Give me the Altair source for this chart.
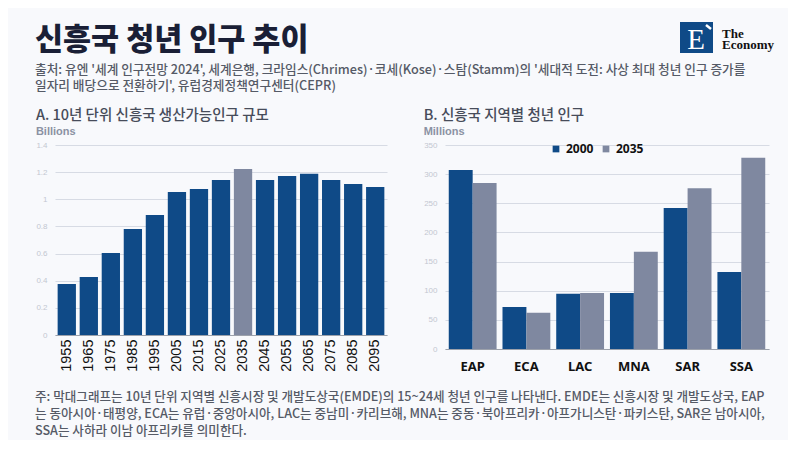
import altair as alt
import pandas as pd

# ---------------- data ----------------
years = [1955, 1965, 1975, 1985, 1995, 2005, 2015, 2025, 2035, 2045, 2055, 2065, 2075, 2085, 2095]
working_age_bn = [0.376, 0.427, 0.604, 0.781, 0.884, 1.054, 1.076, 1.142, 1.223, 1.142, 1.172, 1.189, 1.142, 1.113, 1.091]

regions = ["EAP", "ECA", "LAC", "MNA", "SAR", "SSA"]
youth_2000 = [307, 72, 95, 96, 242, 132]
youth_2035 = [285, 62, 96, 167, 276, 328]
series_years = ["2000", "2035"]

left_ticks = [0, 0.2, 0.4, 0.6, 0.8, 1, 1.2, 1.4]
right_ticks = [0, 50, 100, 150, 200, 250, 300, 350]

title_text = "신흥국 청년 인구 추이"
source_lines = [
    "출처: 유엔 '세계 인구전망 2024', 세계은행, 크라임스(Chrimes)·코세(Kose)·스탐(Stamm)의 '세대적 도전: 사상 최대 청년 인구 증가를",
    "일자리 배당으로 전환하기', 유럽경제정책연구센터(CEPR)",
]
panel_a_title = "A. 10년 단위 신흥국 생산가능인구 규모"
panel_a_unit = "Billions"
panel_b_title = "B. 신흥국 지역별 청년 인구"
panel_b_unit = "Millions"
note_lines = [
    "주: 막대그래프는 10년 단위 지역별 신흥시장 및 개발도상국(EMDE)의 15~24세 청년 인구를 나타낸다. EMDE는 신흥시장 및 개발도상국, EAP",
    "는 동아시아·태평양, ECA는 유럽·중앙아시아, LAC는 중남미·카리브해, MNA는 중동·북아프리카·아프가니스탄·파키스탄, SAR은 남아시아,",
    "SSA는 사하라 이남 아프리카를 의미한다.",
]

# ---------------- style ----------------
KR = "Noto Sans CJK KR"
BLUE = "#0f4a87"
GRAY = "#7f88a0"
BG = "#f8f9fc"
TXT = "#1a1f36"
SUB = "#555a66"
X0 = -20  # header / footer text start, relative to left plot origin

df_a = pd.DataFrame({"year": years, "value": working_age_bn})
rows = []
for r, a, b in zip(regions, youth_2000, youth_2035):
    rows.append({"region": r, "series": series_years[0], "value": a})
    rows.append({"region": r, "series": series_years[1], "value": b})
df_b = pd.DataFrame(rows)

# ---------------- header ----------------
hdr = pd.DataFrame({"t": [title_text]})
W_HDR = 680
H_HDR = 84

base_hdr = alt.Chart(hdr).properties(width=W_HDR, height=H_HDR)
h_title = base_hdr.mark_text(align="left", baseline="alphabetic", font=KR, fontSize=30.5,
                             fontWeight=900, color=TXT).encode(
    x=alt.value(X0), y=alt.value(35), text=alt.value(title_text))
h_src1 = base_hdr.mark_text(align="left", baseline="alphabetic", font=KR, fontSize=12.7,
                            fontWeight=500, color=SUB).encode(
    x=alt.value(X0), y=alt.value(58.5), text=alt.value(source_lines[0]))
h_src2 = base_hdr.mark_text(align="left", baseline="alphabetic", font=KR, fontSize=12.7,
                            fontWeight=500, color=SUB).encode(
    x=alt.value(X0), y=alt.value(75), text=alt.value(source_lines[1]))
LX = 625  # logo left, relative to left plot origin
logo_box = base_hdr.mark_rect(color=BLUE).encode(
    x=alt.value(LX), x2=alt.value(LX + 33), y=alt.value(7), y2=alt.value(38))
logo_e = base_hdr.mark_text(align="center", baseline="alphabetic", font="Liberation Serif",
                            fontSize=29, color="white").encode(
    x=alt.value(LX + 16), y=alt.value(34), text=alt.value("E"))
logo_tick = base_hdr.mark_rule(color="white", strokeWidth=2.5).encode(
    x=alt.value(LX + 26), x2=alt.value(LX + 31), y=alt.value(10), y2=alt.value(14))
logo_the = base_hdr.mark_text(align="left", baseline="alphabetic", font="Liberation Serif",
                              fontSize=13, fontWeight="bold", color="#111111").encode(
    x=alt.value(LX + 42), y=alt.value(23), text=alt.value("The"))
logo_eco = base_hdr.mark_text(align="left", baseline="alphabetic", font="Liberation Serif",
                              fontSize=13, fontWeight="bold", color="#111111").encode(
    x=alt.value(LX + 42), y=alt.value(34), text=alt.value("Economy"))
header = alt.layer(h_title, h_src1, h_src2, logo_box, logo_e, logo_tick, logo_the, logo_eco)

# ---------------- panel A ----------------
def panel_title(t, unit):
    return alt.TitleParams(
        text=t, subtitle=unit, anchor="start", frame="bounds",
        font=KR, fontSize=14.5, fontWeight=500, color="#474c5a",
        subtitleFont="Liberation Sans", subtitleFontSize=11, subtitleFontWeight="bold",
        subtitleColor="#8b92a3", subtitlePadding=3, offset=3)

y_axis_common = dict(grid=True, gridColor="#d7dbe4", gridWidth=1, domain=False, ticks=False,
                     labelColor="#c3c7d1", labelFontSize=8, labelFont="Liberation Sans",
                     labelPadding=8, title=None)

chart_a = alt.Chart(df_a).mark_bar().encode(
    x=alt.X("year:O", title=None,
            scale=alt.Scale(paddingInner=0.17, paddingOuter=0.12),
            axis=alt.Axis(labelAngle=270, labelAlign="right", labelBaseline="middle",
                          labelFont="Liberation Sans", labelFontSize=14.5, labelColor="#111111",
                          labelPadding=4, ticks=False, domainColor="#9ca1ab", domainWidth=1.2)),
    y=alt.Y("value:Q", scale=alt.Scale(domain=[0, 1.4], nice=False),
            axis=alt.Axis(values=left_ticks, format="~g", **y_axis_common)),
    color=alt.when(alt.datum.year == 2035).then(alt.value(GRAY)).otherwise(alt.value(BLUE)),
).properties(width=332, height=190, title=panel_title(panel_a_title, panel_a_unit))

# ---------------- panel B ----------------
chart_b = alt.Chart(df_b).mark_bar().encode(
    x=alt.X("region:N", sort=regions, title=None,
            scale=alt.Scale(paddingInner=0.11, paddingOuter=0.07),
            axis=alt.Axis(labelAngle=0, labelFont="Noto Sans", labelFontSize=13,
                          labelFontWeight="bold", labelColor="#111111", labelPadding=11,
                          ticks=False, domainColor="#9ca1ab", domainWidth=1.2)),
    xOffset=alt.XOffset("series:N", sort=series_years),
    y=alt.Y("value:Q", scale=alt.Scale(domain=[0, 350], nice=False),
            axis=alt.Axis(values=right_ticks, **y_axis_common)),
    color=alt.Color("series:N", sort=series_years,
                    scale=alt.Scale(domain=series_years, range=[BLUE, GRAY]),
                    legend=alt.Legend(title=None, orient="none", legendX=105, legendY=-2,
                                      direction="horizontal", symbolType="square",
                                      symbolSize=45, symbolStrokeWidth=0,
                                      labelFont="Noto Sans", labelFontSize=12,
                                      labelFontWeight="bold", labelColor="#111111",
                                      labelOffset=4, columnPadding=6)),
).properties(width=324, height=204, title=panel_title(panel_b_title, panel_b_unit))

middle = alt.hconcat(chart_a, chart_b, spacing=36).resolve_scale(color="independent")

# ---------------- footnote ----------------
foot_base = alt.Chart(hdr).properties(width=W_HDR, height=52)
foot_layers = []
for i, line in enumerate(note_lines):
    foot_layers.append(
        foot_base.mark_text(align="left", baseline="alphabetic", font=KR, fontSize=12.6,
                            fontWeight=500, color=SUB).encode(
            x=alt.value(X0), y=alt.value(19.5 + 17 * i), text=alt.value(line)))
footer = alt.layer(*foot_layers)

chart = alt.vconcat(header, middle, footer, spacing=8).properties(
    padding={"left": 27, "top": 7, "right": 14, "bottom": 2},
    background=BG,
).configure_view(stroke=None)

chart.save("out.html", embed_options={"renderer": "svg", "actions": False})
